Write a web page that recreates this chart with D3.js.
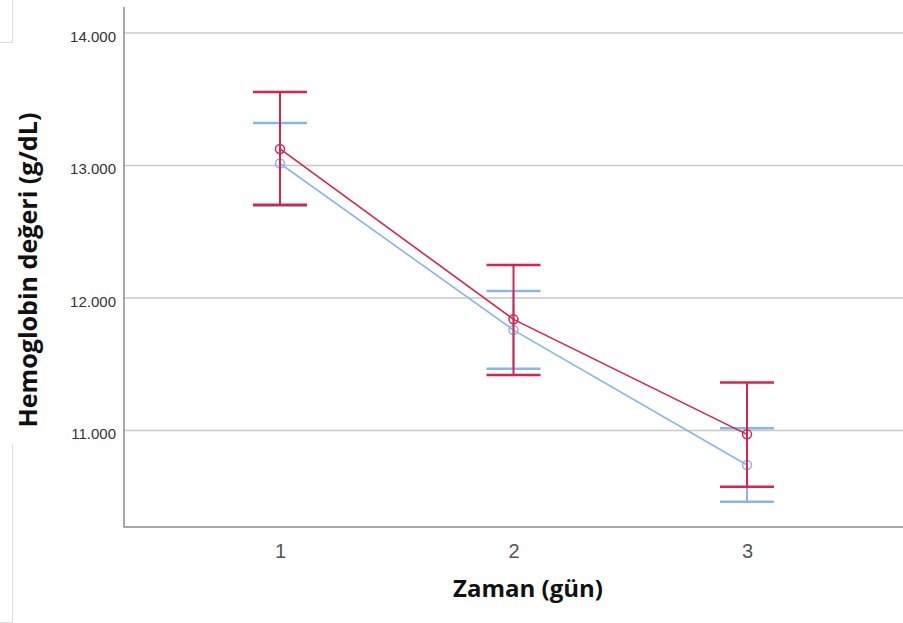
<!DOCTYPE html>
<html>
<head>
<meta charset="utf-8">
<script src="https://cdn.jsdelivr.net/npm/d3@7"></script>
<style>
  body { margin: 0; background: #fff; }
  svg { display: block; }
</style>
</head>
<body>
<svg id="chart" width="903" height="623"></svg>
<script>
// days on the x axis
var days = [1, 2, 3];
var yTicks = [11, 12, 13, 14];

// blue group
var blueMean  = [13.015, 11.758, 10.740];
var blueUpper = [13.321, 12.052, 11.017];
var blueLower = [12.697, 11.466, 10.463];

// red group
var redMean  = [13.125, 11.839, 10.971];
var redUpper = [13.555, 12.250, 11.363];
var redLower = [12.703, 11.419, 10.576];

var series = [
    {color: "#86b6ea", mean: blueMean, upper: blueUpper, lower: blueLower},
    {color: "#d8234f", mean: redMean,  upper: redUpper,  lower: redLower}
];

var svg = d3.select("#chart");
var plot = {left: 124, right: 903, top: 7, bottom: 527};

var x = d3.scalePoint()
    .domain(days)
    .range([plot.left, plot.right])
    .padding(0.668);

var y = d3.scaleLinear()
    .domain([10.272, 14.196])
    .range([plot.bottom, plot.top]);

// faint leftovers of the page frame
var frame = svg.append("g").attr("stroke", "#dcdcdc").attr("stroke-width", 1).attr("fill", "none");
frame.append("path").attr("d", "M12.5,0V42.5H0");
frame.append("path").attr("d", "M12.5,444V622.5H0");

// gridlines
svg.append("g")
   .selectAll("line")
   .data(yTicks)
   .join("line")
   .attr("x1", plot.left)
   .attr("x2", plot.right)
   .attr("y1", d => y(d))
   .attr("y2", d => y(d))
   .attr("stroke", "#c8c8c8")
   .attr("stroke-width", 1.5);

// y axis
var yAxis = svg.append("g")
    .attr("transform", `translate(${plot.left},0)`)
    .call(d3.axisLeft(y).tickValues(yTicks).tickSize(0).tickPadding(8)
            .tickFormat(d => d3.format(".3f")(d)));
yAxis.select(".domain").remove();
yAxis.selectAll("text")
     .attr("dy", "0.55em")
     .attr("font-family", "Liberation Sans, Arial, sans-serif")
     .attr("font-size", 15)
     .attr("fill", "#333");

// x axis
var xAxis = svg.append("g")
    .attr("transform", `translate(0,${plot.bottom})`)
    .call(d3.axisBottom(x).tickSize(0).tickPadding(17));
xAxis.select(".domain").remove();
xAxis.selectAll("text")
     .attr("font-family", "Liberation Sans, Arial, sans-serif")
     .attr("font-size", 20)
     .attr("fill", "#555");

// axis frame lines
svg.append("path")
   .attr("d", `M${plot.left},${plot.top}V${plot.bottom}H${plot.right}`)
   .attr("fill", "none")
   .attr("stroke", "#8c8c8c")
   .attr("stroke-width", 1.5);

// error bars, lines and markers
var capHalf = 27;
var line = d3.line().x((d, i) => x(days[i])).y(d => y(d));

series.forEach(s => {
    var g = svg.append("g").attr("stroke", s.color).attr("fill", "none");

    g.selectAll("line.bar")
     .data(days)
     .join("line")
     .attr("x1", d => x(d)).attr("x2", d => x(d))
     .attr("y1", (d, i) => y(s.upper[i]))
     .attr("y2", (d, i) => y(s.lower[i]))
     .attr("stroke-width", 2);

    g.selectAll("line.cap")
     .data(days.flatMap((d, i) => [[d, s.upper[i]], [d, s.lower[i]]]))
     .join("line")
     .attr("x1", d => x(d[0]) - capHalf).attr("x2", d => x(d[0]) + capHalf)
     .attr("y1", d => y(d[1])).attr("y2", d => y(d[1]))
     .attr("stroke-width", 2.5);

    g.append("path")
     .attr("d", line(s.mean))
     .attr("stroke-width", 1.6);

    g.selectAll("circle")
     .data(s.mean)
     .join("circle")
     .attr("cx", (d, i) => x(days[i]))
     .attr("cy", d => y(d))
     .attr("r", 4.5)
     .attr("stroke-width", 1.5);
});

// axis titles, sized to the width they take in the original
function fitText(sel, width) {
    var w = sel.node().getComputedTextLength();
    sel.attr("font-size", 24 * width / w);
}

var xTitle = svg.append("text")
   .attr("x", 528)
   .attr("y", 597)
   .attr("text-anchor", "middle")
   .attr("font-family", "Open Sans, sans-serif")
   .attr("font-weight", "bold")
   .attr("font-size", 24)
   .attr("fill", "#111")
   .text("Zaman (gün)");
fitText(xTitle, 150);

var yTitle = svg.append("text")
   .attr("transform", "translate(37,270) rotate(-90)")
   .attr("text-anchor", "middle")
   .attr("font-family", "Open Sans, sans-serif")
   .attr("font-weight", "bold")
   .attr("font-size", 24)
   .attr("fill", "#111")
   .text("Hemoglobin değeri (g/dL)");
fitText(yTitle, 315);
</script>
</body>
</html>
